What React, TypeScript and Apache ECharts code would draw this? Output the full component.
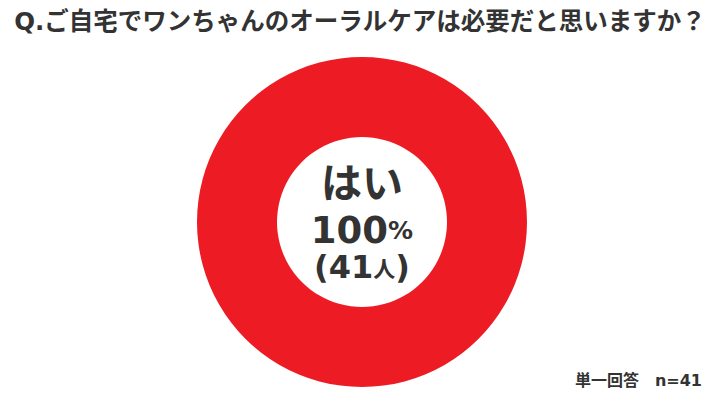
import { useEffect, useRef } from "react";
import * as echarts from "echarts";

const TITLE = "Q.ご自宅でワンちゃんのオーラルケアは必要だと思いますか？";
const CATEGORIES = ["はい"];
const VALUES = [41];
const COLORS = ["#ED1C24"];
const NOTE = "単一回答　n=41";

// Latin glyphs in the reference are Verdana-like, DejaVu Sans is the closest
const FONT = '"DejaVu Sans", "Noto Sans CJK JP", sans-serif';
const CJK = '"Noto Sans CJK JP", sans-serif';
const INK = "#333333";

export default function App() {
  const chartRef = useRef<HTMLDivElement>(null);

  useEffect(() => {
    if (!chartRef.current) return;
    const chart = echarts.init(chartRef.current, undefined, { renderer: "svg" });
    const total = VALUES.reduce((a, b) => a + b, 0);
    const pct = Math.round((VALUES[0] / total) * 100);

    // centre labels, one text per line
    const centerText = (y: number, text: string, rich: Record<string, any>) => ({
      type: "text",
      x: 362,
      y,
      style: { text, rich, align: "center", verticalAlign: "middle", fill: INK },
    });

    chart.setOption({
      animation: false,
      backgroundColor: "#ffffff",
      title: {
        text: TITLE,
        left: "center",
        top: 4,
        textStyle: { fontFamily: FONT, fontSize: 24.5, fontWeight: "bold", color: INK },
      },
      graphic: [
        {
          type: "text",
          right: 18,
          top: 372,
          style: { text: NOTE, font: `bold 16px ${FONT}`, fill: INK },
        },
        centerText(180, `{a|${CATEGORIES[0]}}`, {
          a: { fontFamily: CJK, fontSize: 41, fontWeight: "bold", color: INK },
        }),
        centerText(230, `{a|${pct}}{b|%}`, {
          a: { fontFamily: FONT, fontSize: 37, fontWeight: "bold", color: INK },
          b: { fontFamily: FONT, fontSize: 25, fontWeight: "bold", color: INK },
        }),
        centerText(267, `{a|(${VALUES[0]}}{b|人}{a|)}`, {
          a: { fontFamily: FONT, fontSize: 32, fontWeight: "bold", color: INK },
          b: { fontFamily: CJK, fontSize: 22, fontWeight: "bold", color: INK },
        }),
      ],
      series: [
        {
          type: "pie",
          center: [362, 222],
          radius: [85, 165],
          startAngle: 90,
          silent: true,
          itemStyle: { borderWidth: 0 },
          label: { show: false },
          labelLine: { show: false },
          data: CATEGORIES.map((name, i) => ({
            name,
            value: VALUES[i],
            itemStyle: { color: COLORS[i] },
          })),
        },
      ],
    });
    return () => chart.dispose();
  }, []);

  return <div ref={chartRef} style={{ width: 720, height: 405, margin: -8 }} />;
}
